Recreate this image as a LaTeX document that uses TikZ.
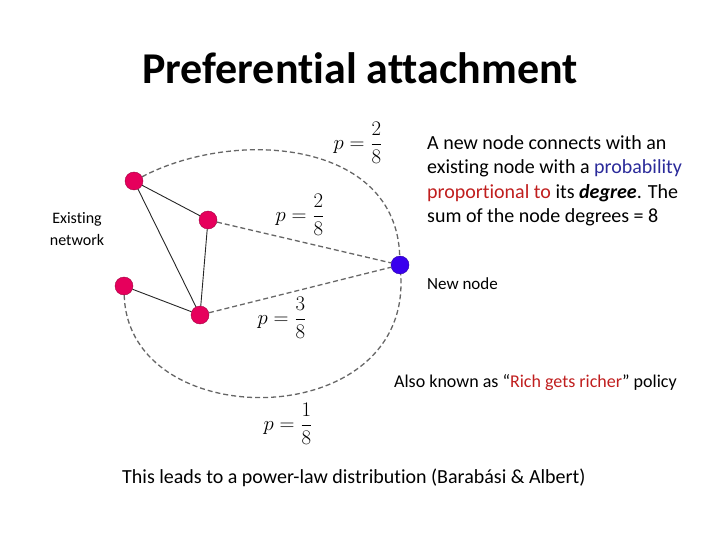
\documentclass[tikz,border=0pt]{standalone}
\usepackage{fontspec}
\setmainfont{Carlito}[Ligatures=NoCommon]
\usepackage{amsmath}
\usepackage{tikz}
\usetikzlibrary{calc}
\definecolor{oldnode}{HTML}{E6005C}
\definecolor{newnode}{HTML}{3A00EE}
\definecolor{probblue}{HTML}{2A2A9A}
\definecolor{propred}{HTML}{C01E1E}
\tikzset{
	oldvtx/.style={circle, draw=oldnode!70!black, fill=oldnode, minimum size=18pt, inner sep=0pt},
	newvtx/.style={circle, draw=newnode!70!black, fill=newnode, minimum size=18pt, inner sep=0pt},
	tie/.style={line width=0.9pt, black!85},
	link/.style={line width=1.3pt, black!60, dash pattern=on 5pt off 3pt},
	prob/.style={font=\fontsize{21}{24}\selectfont, inner sep=0pt}
}
\newcommand{\pfrac}[2]{$p=\dfrac{#1}{#2}$}

\begin{document}
\begin{tikzpicture}[x=1pt, y=-1pt]
		%%%%% START %%%%%
		\useasboundingbox (0, 0) rectangle (720, 540);
		
		\node[font=\fontsize{44}{48}\bfseries] (title) at (360, 68) {Preferential attachment};
		
		% existing network
		\node[oldvtx] (va) at (134, 181) {};
		\node[oldvtx] (vb) at (208, 220) {};
		\node[oldvtx] (vc) at (124, 286) {};
		\node[oldvtx] (vd) at (200, 315) {};
		\draw[tie] (va) -- (vb);
		\draw[tie] (va) -- (vd);
		\draw[tie] (vb) -- (vd);
		\draw[tie] (vc) -- (vd);
		
		% the new node
		\node[newvtx] (vn) at (400, 265) {};
		
		\draw[link] (va) .. controls (235, 128) and (396, 140) .. (vn);
		\draw[link] (vb) -- (vn);
		\draw[link] (vd) -- (vn);
		\draw[link] (vc) .. controls (128, 436) and (412, 434) .. (vn);
		
		\node[prob] (pa) at (358, 143) {\pfrac{2}{8}};
		\node[prob] (pb) at (300, 215) {\pfrac{2}{8}};
		\node[prob] (pd) at (282, 318) {\pfrac{3}{8}};
		\node[prob] (pc) at (288, 424) {\pfrac{1}{8}};
		
		% texts
		\node[font=\fontsize{16}{22}\selectfont, align=center] (exist) at (77, 229) {Existing\\network};
		\node[font=\fontsize{20}{24.5}\selectfont, align=left, anchor=north west, inner sep=0pt] (rule) at (427, 135)
			{A new node connects with an\\
			existing node with a \textcolor{probblue}{probability}\\
			\textcolor{propred}{proportional to} its \textbf{\textit{degree}}. The\\
			sum of the node degrees = 8};
		\node[font=\fontsize{17}{20}\selectfont, anchor=west, inner sep=0pt] (newlbl) at (427, 284) {New node};
		\node[font=\fontsize{18}{20}\selectfont, anchor=west, inner sep=0pt] (aka) at (394, 383)
			{Also known as “\textcolor{propred}{Rich gets richer}” policy};
		\node[font=\fontsize{20}{24}\selectfont, anchor=west, inner sep=0pt] (law) at (122, 478)
			{This leads to a power-law distribution (Barabási \& Albert)};
		
		%%%%% END %%%%%
	\end{tikzpicture}
\end{document}
